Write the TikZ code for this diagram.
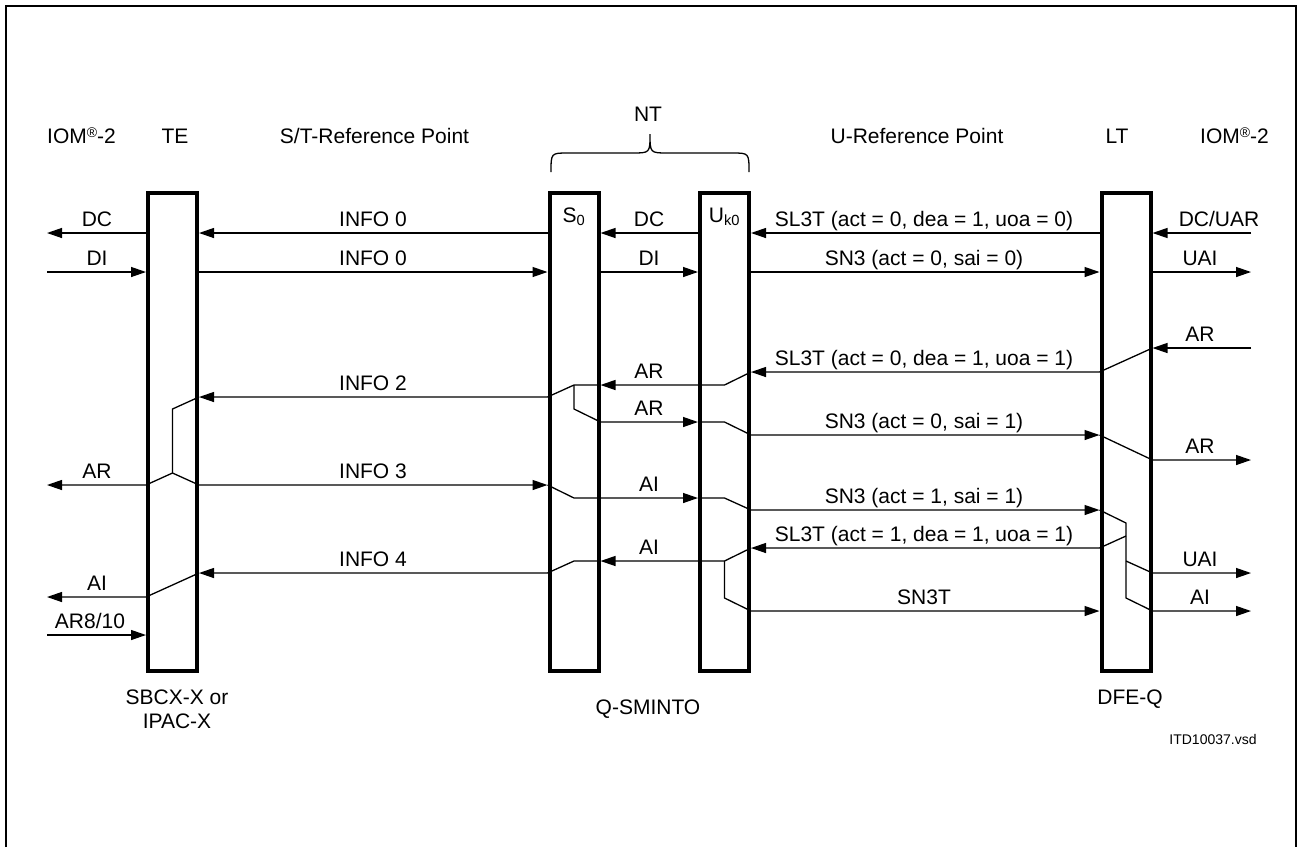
\documentclass[tikz,border=0pt]{standalone}
\usepackage{fontspec}
\setmainfont{Liberation Sans}
\usetikzlibrary{arrows.meta}
\begin{document}
\begin{tikzpicture}[x=1pt,y=-1pt,
  box/.style={draw, line width=4pt, minimum width=49pt, minimum height=478pt, inner sep=0pt},
  sig/.style={line width=1.3pt},
  arr/.style={sig, -{Triangle[length=15pt,width=10pt]}},
  lab/.style={anchor=base, inner sep=0pt, font=\fontsize{21}{25}\selectfont},
  small/.style={anchor=base, inner sep=0pt, font=\fontsize{14}{17}\selectfont},
  frame/.style={line width=2pt}
]
\useasboundingbox (0,0) rectangle (1297,847);
\draw[frame] (6,847) -- (6,6) -- (1296,6) -- (1296,847);

% boxes
\node[box] (te)  at (172.5,432) {};
\node[box] (s0)  at (574,432) {};
\node[box] (uk)  at (724.5,432) {};
\node[box] (dfe) at (1126,432) {};
\coordinate (lft) at (47,0);
\coordinate (rgt) at (1251,0);

% headings
\node[lab, anchor=base west] (iomL) at (47,143) {IOM{\fontsize{14}{14}\selectfont\raisebox{6pt}{®}}-2};
\node[lab] (teL) at (175,143) {TE};
\node[lab] (stL) at (374.5,143) {S/T-Reference Point};
\node[lab] (ntL) at (648,121) {NT};
\node[lab] (uL) at (917,143) {U-Reference Point};
\node[lab] (ltL) at (1117,143) {LT};
\node[lab, anchor=base west] (iomR) at (1200,143) {IOM{\fontsize{14}{14}\selectfont\raisebox{6pt}{®}}-2};
\draw[sig] (551,172) .. controls (551,153) .. (568,153) -- (632,153)
  .. controls (650,153) .. (650,134) .. controls (650,153) .. (668,153)
  -- (732,153) .. controls (749,153) .. (749,172);

\node[lab] (s0t) at (574,222) {S\textsubscript{0}};
\node[lab] (ukt) at (724.5,222) {U\textsubscript{k0}};

% row 233
\draw[arr] (te.west|-0,233) -- (lft|-0,233);
\draw[arr] (s0.west|-0,233) -- (te.east|-0,233);
\draw[arr] (uk.west|-0,233) -- (s0.east|-0,233);
\draw[arr] (dfe.west|-0,233) -- (uk.east|-0,233);
\draw[arr] (rgt|-0,233) -- (dfe.east|-0,233);
% row 272
\draw[arr] (lft|-0,272) -- (te.west|-0,272);
\draw[arr] (te.east|-0,272) -- (s0.west|-0,272);
\draw[arr] (s0.east|-0,272) -- (uk.west|-0,272);
\draw[arr] (uk.east|-0,272) -- (dfe.west|-0,272);
\draw[arr] (dfe.east|-0,272) -- (rgt|-0,272);

% activation AR
\draw[arr] (rgt|-0,348) -- (dfe.east|-0,348);
\draw[arr] (dfe.east|-0,348) -- (dfe.west|-0,372) -- (uk.east|-0,372);
\draw[arr] (uk.east|-0,372) -- (uk.center|-0,385) -- (s0.east|-0,385);
\draw[arr] (s0.east|-0,385) -- (s0.center|-0,385) -- (s0.west|-0,397) -- (te.east|-0,397);
\draw[arr] (s0.center|-0,385) -- (s0.center|-0,409) -- (s0.east|-0,422) -- (uk.west|-0,422);
\draw[arr] (uk.west|-0,422) -- (uk.center|-0,422) -- (uk.east|-0,435) -- (dfe.west|-0,435);
\draw[arr] (dfe.west|-0,435) -- (dfe.east|-0,460) -- (rgt|-0,460);
% TE AR / INFO 3
\draw[arr] (te.east|-0,397) -- (te.center|-0,409) -- (te.center|-0,473) -- (te.west|-0,485) -- (lft|-0,485);
\draw[arr] (te.center|-0,473) -- (te.east|-0,485) -- (s0.west|-0,485);
\draw[arr] (s0.west|-0,485) -- (s0.center|-0,498) -- (uk.west|-0,498);
\draw[arr] (uk.west|-0,498) -- (uk.center|-0,498) -- (uk.east|-0,510) -- (dfe.west|-0,510);
\draw[arr] (dfe.west|-0,510) -- (dfe.center|-0,523) -- (dfe.center|-0,598) -- (dfe.east|-0,611) -- (rgt|-0,611);
\draw[arr] (dfe.center|-0,561) -- (dfe.east|-0,573) -- (rgt|-0,573);
\draw[arr] (dfe.center|-0,536) -- (dfe.west|-0,548) -- (uk.east|-0,548);
\draw[arr] (uk.east|-0,548) -- (uk.center|-0,561) -- (s0.east|-0,561);
\draw[arr] (s0.east|-0,561) -- (s0.center|-0,561) -- (s0.west|-0,573) -- (te.east|-0,573);
\draw[arr] (te.east|-0,573) -- (te.west|-0,597) -- (lft|-0,597);
\draw[arr] (uk.center|-0,561) -- (uk.center|-0,598) -- (uk.east|-0,611) -- (dfe.west|-0,611);
\draw[arr] (lft|-0,635) -- (te.west|-0,635);

% labels left
\node[lab] (a1) at (97,226) {DC};
\node[lab] (a2) at (97,265) {DI};
\node[lab] (a3) at (97,478) {AR};
\node[lab] (a4) at (97,590) {AI};
\node[lab] (a5) at (90,628) {AR8/10};
% TE - S0
\node[lab] (b1) at (373,226) {INFO 0};
\node[lab] (b2) at (373,265) {INFO 0};
\node[lab] (b3) at (373,390) {INFO 2};
\node[lab] (b4) at (373,478) {INFO 3};
\node[lab] (b5) at (373,566) {INFO 4};
% S0 - Uk0
\node[lab] (c1) at (649,226) {DC};
\node[lab] (c2) at (649,265) {DI};
\node[lab] (c3) at (649,378) {AR};
\node[lab] (c4) at (649,415) {AR};
\node[lab] (c5) at (649,491) {AI};
\node[lab] (c6) at (649,554) {AI};
% Uk0 - DFE
\node[lab] (d1) at (924,226) {SL3T (act = 0, dea = 1, uoa = 0)};
\node[lab] (d2) at (924,265) {SN3 (act = 0, sai = 0)};
\node[lab] (d3) at (924,365) {SL3T (act = 0, dea = 1, uoa = 1)};
\node[lab] (d4) at (924,428) {SN3 (act = 0, sai = 1)};
\node[lab] (d5) at (924,503) {SN3 (act = 1, sai = 1)};
\node[lab] (d6) at (924,541) {SL3T (act = 1, dea = 1, uoa = 1)};
\node[lab] (d7) at (924,604) {SN3T};
% right
\node[lab] (e1) at (1219,226) {DC/UAR};
\node[lab] (e2) at (1200,265) {UAI};
\node[lab] (e3) at (1200,341) {AR};
\node[lab] (e4) at (1200,453) {AR};
\node[lab] (e5) at (1200,566) {UAI};
\node[lab] (e6) at (1200,604) {AI};

% bottom labels
\node[lab] (f1) at (177,704) {SBCX-X or};
\node[lab] (f2) at (177,728) {IPAC-X};
\node[lab] (f3) at (648,714) {Q-SMINTO};
\node[lab] (f4) at (1130,704) {DFE-Q};
\node[small] (f5) at (1213,744) {ITD10037.vsd};
\end{tikzpicture}
\end{document}
